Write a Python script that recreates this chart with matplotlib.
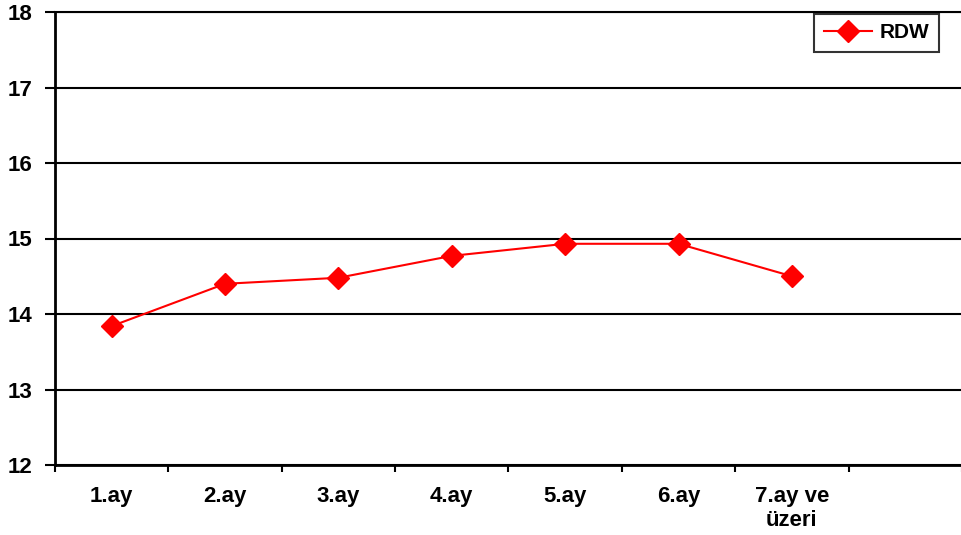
import numpy as np
import matplotlib
matplotlib.use("Agg")
from matplotlib import pyplot as plt

# monthly RDW means
months = ["1.ay", "2.ay", "3.ay", "4.ay", "5.ay", "6.ay", "7.ay ve\nüzeri", ""]
rdw = [13.84, 14.40, 14.48, 14.77, 14.93, 14.93, 14.50]

plt.rcParams['font.family'] = ['Liberation Sans', 'DejaVu Sans']
plt.rcParams['font.weight'] = 'bold'

fig = plt.figure(figsize=(9.62, 5.35), dpi=100)
ax = fig.add_axes([55/962, 70/535, 1 - 55/962, 453/535])

x = np.arange(len(rdw))
ax.plot(x, rdw, '-D', color='red', lw=1.5, ms=11, label='RDW')

ax.set_ylim(12, 18)
ax.set_yticks(range(12, 19))
ax.set_xlim(-0.5, 7.435)
ax.grid(axis='y', color='black', lw=1.5)
ax.set_axisbelow(True)

# category labels centred, tick marks between categories
ax.set_xticks(np.arange(-0.5, 8, 1.0))
ax.set_xticklabels([])
ax.set_xticks(np.arange(len(months)), minor=True)
ax.set_xticklabels(months, minor=True, fontsize=16, fontweight='bold', linespacing=1.2)
ax.tick_params(axis='x', which='minor', length=0, pad=15)
ax.tick_params(axis='x', which='major', length=5, width=1.5, direction='out')
ax.tick_params(axis='y', length=7, width=1.5, pad=9, labelsize=16)
for t in ax.get_yticklabels():
    t.set_fontweight('bold')

ax.spines['right'].set_visible(False)
ax.spines['top'].set_linewidth(1.5)
for s in ['left', 'bottom']:
    ax.spines[s].set_linewidth(2)

leg = ax.legend(loc='upper right', frameon=True, fancybox=False, edgecolor='black',
                handlelength=2.3, borderpad=0.45, handletextpad=0.4, borderaxespad=0,
                prop={'weight': 'bold', 'size': 15})
leg.get_frame().set_linewidth(1.5)
leg.set_bbox_to_anchor((939/962, 1 - 14/535), transform=fig.transFigure)

plt.savefig("out.png", dpi=100)
